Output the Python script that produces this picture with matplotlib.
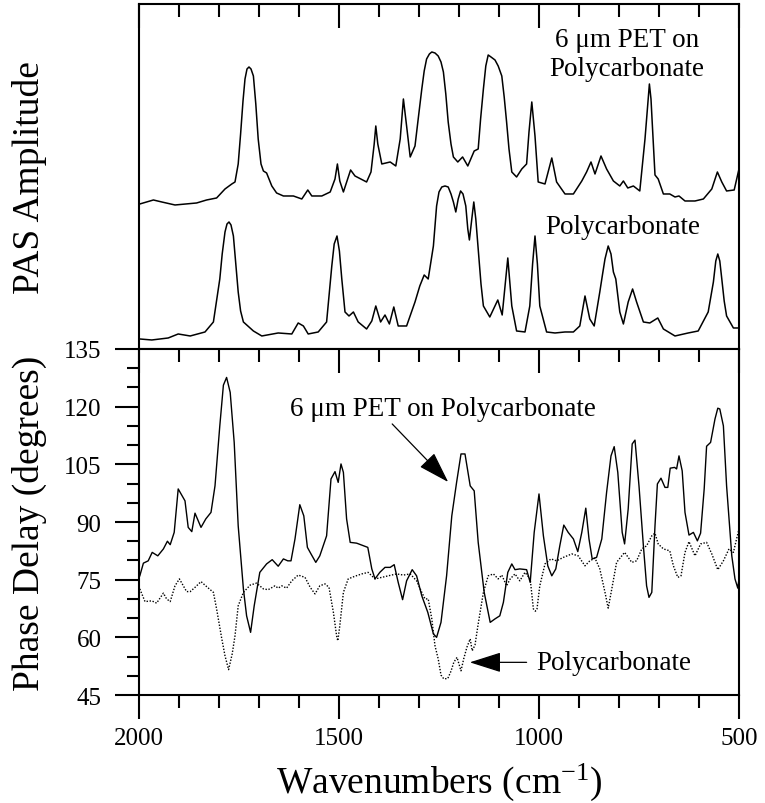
import numpy as np
import matplotlib
matplotlib.use("Agg")
import matplotlib.pyplot as plt
from matplotlib.ticker import MultipleLocator

plt.rcParams['font.family'] = ['Liberation Serif', 'DejaVu Serif']
plt.rcParams['mathtext.fontset'] = 'custom'
plt.rcParams['mathtext.rm'] = 'Liberation Serif'
plt.rcParams['mathtext.default'] = 'regular'

# --- PAS amplitude spectra (arbitrary units) ---
pet_amp_wn = [1998, 1964, 1943, 1910, 1856, 1831, 1806, 1785, 1768, 1760, 1752, 1746, 1740,
              1735, 1730, 1725, 1720, 1714, 1708, 1702, 1695, 1689, 1681, 1668, 1656, 1639,
              1614, 1593, 1578, 1568, 1543, 1522, 1510, 1504, 1498, 1489, 1471, 1460, 1431,
              1420, 1412, 1408, 1403, 1393, 1372, 1358, 1347, 1339, 1331, 1322, 1310, 1302,
              1293, 1287, 1281, 1274, 1268, 1260, 1252, 1245, 1239, 1233, 1227, 1220, 1214,
              1203, 1191, 1178, 1162, 1152, 1146, 1139, 1133, 1127, 1120, 1110, 1102, 1093,
              1087, 1081, 1075, 1068, 1056, 1043, 1031, 1025, 1018, 1010, 1002, 985, 968,
              956, 935, 914, 893, 881, 870, 860, 845, 831, 814, 798, 789, 778, 764, 748,
              735, 728, 724, 720, 717, 710, 702, 689, 673, 660, 650, 635, 610, 589, 568,
              554, 543, 531, 512, 500]
pet_amp = [145, 149, 147, 144, 146, 149, 151, 160, 165, 167, 185, 215, 248,
           270, 280, 282, 280, 273, 245, 210, 185, 178, 176, 163, 156, 153,
           153, 150, 159, 153, 153, 157, 170, 185, 168, 157, 179, 173, 167,
           177, 205, 223, 205, 185, 187, 183, 210, 250, 223, 192, 203, 230,
           260, 278, 290, 295, 297, 296, 293, 287, 277, 255, 227, 205, 192,
           187, 192, 183, 198, 200, 230, 260, 283, 294, 292, 289, 283, 273,
           252, 227, 200, 177, 172, 180, 185, 217, 247, 213, 167, 165, 191,
           167, 155, 155, 168, 177, 187, 175, 193, 180, 168, 163, 168, 161, 163, 158,
           210, 245, 265, 250, 227, 174, 170, 155, 155, 152, 153, 148, 148, 150, 160,
           177, 167, 158, 159, 180]

pc_amp_wn = [1998, 1968, 1927, 1902, 1872, 1835, 1814, 1798, 1792, 1785, 1780, 1775, 1770,
             1764, 1758, 1752, 1746, 1739, 1714, 1693, 1652, 1618, 1602, 1589, 1577, 1552,
             1531, 1518, 1512, 1505, 1499, 1493, 1485, 1475, 1464, 1452, 1431, 1418, 1408,
             1396, 1385, 1374, 1363, 1352, 1331, 1310, 1298, 1287, 1277, 1264, 1256, 1250,
             1243, 1235, 1227, 1220, 1214, 1208, 1202, 1196, 1190, 1183, 1178, 1174, 1168,
             1163, 1158, 1152, 1145, 1139, 1123, 1103, 1092, 1078, 1068, 1056, 1035, 1023,
             1016, 1010, 1004, 998, 981, 960, 935, 914, 898, 885, 873, 862, 848, 841, 835,
             827, 820, 814, 808, 798, 789, 777, 766, 756, 739, 723, 703, 689, 660, 627, 602,
             577, 564, 558, 553, 548, 543, 537, 531, 514, 500]
pc_amp = [10, 9, 11, 15, 13, 17, 27, 70, 95, 117, 125, 127, 124,
          113, 85, 57, 38, 27, 18, 13, 16, 15, 26, 23, 15, 17,
          27, 83, 105, 113, 98, 70, 37, 33, 37, 27, 20, 28, 43,
          27, 34, 25, 42, 23, 23, 47, 63, 74, 70, 103, 143, 157,
          162, 163, 162, 155, 147, 137, 150, 158, 155, 143, 120, 109, 130,
          147, 130, 100, 65, 43, 32, 49, 34, 91, 43, 18, 17, 43,
          85, 113, 85, 43, 17, 16, 17, 17, 23, 53, 30, 23, 57, 75, 90,
          103, 95, 77, 70, 37, 25, 47, 60, 47, 27, 26, 31, 20, 13, 16, 18,
          37, 67, 88, 95, 88, 70, 48, 33, 21, 21]

# --- phase delay spectra (degrees) ---
pet_ph_wn = [1998, 1989, 1977, 1967, 1953, 1939, 1929, 1922, 1912, 1902, 1885, 1877, 1868,
             1860, 1845, 1833, 1820, 1810, 1798, 1789, 1781, 1772, 1762, 1752, 1739, 1731,
             1721, 1712, 1698, 1681, 1667, 1652, 1639, 1628, 1620, 1610, 1598, 1588, 1579,
             1570, 1558, 1548, 1531, 1520, 1510, 1502, 1495, 1489, 1481, 1472, 1456, 1428,
             1418, 1410, 1398, 1385, 1372, 1362, 1352, 1341, 1331, 1317, 1306, 1293, 1278,
             1264, 1256, 1245, 1231, 1218, 1206, 1195, 1185, 1172, 1162, 1152, 1137, 1122,
             1110, 1098, 1089, 1078, 1068, 1060, 1048, 1031, 1022, 1012, 1000, 989, 978,
             968, 958, 948, 938, 927, 914, 903, 893, 883, 875, 867, 856, 843, 831, 820,
             812, 803, 792, 786, 777, 767, 760, 750, 739, 731, 725, 718, 710, 704, 695,
             685, 678, 672, 661, 656, 650, 642, 635, 625, 614, 604, 596, 587, 581, 571,
             560, 553, 548, 539, 531, 518, 510, 503, 500]
pet_ph = [76.0, 79.3, 79.9, 82.1, 81.2, 83.0, 85.0, 84.1, 87.3, 98.6, 95.5, 88.6, 87.5,
          92.3, 88.6, 90.8, 92.5, 99.4, 115.0, 125.6, 127.6, 123.7, 110.7, 89.0, 72.6, 65.6,
          61.3, 68.2, 76.9, 79.1, 80.2, 78.5, 80.4, 79.9, 79.9, 85.6, 94.5, 91.6, 83.4,
          81.7, 79.5, 81.2, 86.4, 101.2, 103.1, 100.3, 105.1, 102.9, 90.8, 84.7, 84.5, 83.4,
          77.8, 75.2, 76.9, 78.2, 78.2, 78.9, 74.3, 69.8, 74.7, 77.6, 76.0, 70.8, 66.5,
          60.9, 60.0, 63.9, 76.0, 91.6, 100.3, 107.7, 107.7, 99.4, 98.1, 84.7, 71.7, 63.9,
          64.8, 65.6, 69.1, 76.9, 79.1, 77.6, 77.8, 77.6, 74.3, 87.3, 97.3, 86.4, 78.6,
          76.0, 77.8, 83.8, 89.2, 87.3, 85.6, 82.3, 87.3, 93.6, 85.6, 80.4, 80.8, 85.6, 97.7, 107.2,
          109.6, 102.9, 87.3, 84.3, 93.4, 110.3, 111.3, 99.4, 83.8, 73.4, 70.4, 71.7, 89.0, 99.9, 101.4,
          99.0, 99.0, 104.0, 104.2, 103.8, 107.2, 103.3, 92.5, 86.6, 87.3, 85.1, 87.1, 98.6, 109.7, 110.7,
          116.8, 119.6, 119.4, 115.0, 99.4, 81.2, 75.2, 72.8, 75.2]

pc_ph_wn = [1998, 1985, 1968, 1956, 1939, 1931, 1922, 1910, 1899, 1881, 1872, 1860, 1845,
            1831, 1814, 1806, 1793, 1785, 1776, 1767, 1760, 1752, 1739, 1722, 1706, 1689,
            1677, 1660, 1652, 1643, 1631, 1618, 1602, 1585, 1572, 1560, 1548, 1535, 1525,
            1514, 1506, 1503, 1498, 1489, 1477, 1460, 1443, 1427, 1410, 1393, 1377, 1356,
            1339, 1322, 1306, 1293, 1285, 1277, 1268, 1260, 1252, 1245, 1238, 1228, 1220,
            1213, 1205, 1195, 1188, 1180, 1172, 1167, 1160, 1152, 1139, 1127, 1114, 1102,
            1093, 1081, 1072, 1060, 1048, 1035, 1022, 1014, 1009, 1005, 998, 985, 970,
            956, 939, 918, 902, 885, 873, 860, 848, 835, 827, 818, 806, 786, 768, 756,
            743, 731, 718, 710, 702, 689, 673, 664, 653, 645, 635, 625, 610, 596, 581,
            568, 553, 539, 525, 514, 500]
pc_ph = [72.6, 69.3, 69.5, 68.9, 71.5, 70.0, 69.3, 73.4, 75.2, 71.9, 71.9, 73.0, 74.5,
         73.2, 71.7, 67.4, 59.6, 55.2, 51.6, 55.7, 60.4, 68.2, 71.7, 73.6, 74.1, 72.6,
         72.4, 73.4, 72.8, 73.4, 72.8, 74.7, 76.2, 75.6, 73.0, 71.3, 73.4, 73.9, 73.0,
         66.5, 60.4, 59.1, 63.0, 71.7, 75.2, 75.9, 76.5, 76.9, 75.2, 75.6, 76.0, 76.5,
         76.2, 76.5, 74.7, 71.7, 70.0, 70.0, 64.8, 57.8, 54.4, 50.2, 49.2, 49.3, 51.2,
         53.5, 54.8, 51.3, 54.5, 57.5, 59.6, 56.5, 58.0, 63.5, 71.7, 76.0, 76.5, 75.2,
         76.2, 73.4, 75.2, 76.5, 74.7, 76.9, 75.2, 67.4, 66.8, 67.4, 73.4, 79.1, 80.4,
         79.9, 80.8, 81.7, 81.2, 78.6, 79.9, 80.6, 77.8, 71.7, 67.6, 72.6, 79.5, 82.1, 79.5, 79.9,
         83.0, 83.8, 86.4, 87.1, 84.3, 83.0, 82.5, 78.6, 75.6, 76.0, 82.1, 84.9, 81.2, 84.3, 84.7,
         81.7, 77.6, 79.9, 83.0, 82.1, 88.2]

fig = plt.figure(figsize=(7.65, 8.04), dpi=100)
ax1 = fig.add_axes([0.1817, 0.5647, 0.7843, 0.4291])
ax2 = fig.add_axes([0.1817, 0.1343, 0.7843, 0.4304])

for ax in (ax1, ax2):
    for s in ax.spines.values():
        s.set_linewidth(1.5)
    ax.set_xlim(2000, 500)

# top panel: amplitude
ax1.plot(pet_amp_wn, pet_amp, color='black', lw=1.1)
ax1.plot(pc_amp_wn, pc_amp, color='black', lw=1.1)
ax1.set_ylim(0, 345)
ax1.xaxis.set_major_locator(MultipleLocator(500))
ax1.xaxis.set_minor_locator(MultipleLocator(100))
ax1.tick_params(axis='x', which='both', bottom=False, top=True, direction='in',
                labelbottom=False, width=1.5)
ax1.tick_params(axis='x', which='major', length=17)
ax1.tick_params(axis='x', which='minor', length=9)
ax1.tick_params(axis='y', which='both', left=False, labelleft=False)
ax1.set_ylabel('PAS Amplitude', fontsize=27)
ax1.yaxis.set_label_coords(-0.153, 0.5)
ax1.text(780, 295, '6 \u03bcm PET on\nPolycarbonate', fontsize=19.5, ha='center',
         va='center', linespacing=1.25)
ax1.text(790, 122, 'Polycarbonate', fontsize=19.5, ha='center', va='center')

# bottom panel: phase delay
ax2.plot(pet_ph_wn, pet_ph, color='black', lw=1.0)
ax2.plot(pc_ph_wn, pc_ph, color='black', lw=1.0, linestyle=(0, (1, 1.2)))
ax2.set_ylim(45, 135)
ax2.yaxis.set_major_locator(MultipleLocator(15))
ax2.yaxis.set_minor_locator(MultipleLocator(5))
ax2.xaxis.set_major_locator(MultipleLocator(500))
ax2.xaxis.set_minor_locator(MultipleLocator(100))
ax2.xaxis.set_major_formatter(plt.FuncFormatter(lambda v, p: '%d' % v))
ax2.tick_params(axis='both', which='both', direction='out', width=1.5, labelsize=18)
ax2.tick_params(axis='both', which='major', length=17, pad=10)
ax2.tick_params(axis='both', which='minor', length=9)
ax2.tick_params(axis='x', which='major', pad=6)
top = ax2.secondary_xaxis('top')
top.xaxis.set_major_locator(MultipleLocator(500))
top.xaxis.set_minor_locator(MultipleLocator(100))
top.tick_params(axis='x', which='both', direction='in', labeltop=False, width=1.5)
top.tick_params(axis='x', which='major', length=17)
top.tick_params(axis='x', which='minor', length=9)
top.spines['top'].set_visible(False)

ax2.set_ylabel('Phase Delay (degrees)', fontsize=27)
ax2.yaxis.set_label_coords(-0.153, 0.5)
ax2.set_xlabel('Wavenumbers (cm$^{-1}$)', fontsize=27)
ax2.xaxis.set_label_coords(0.5, -0.19)

ax2.text(1240, 119.4, '6 \u03bcm PET on Polycarbonate', fontsize=19.5, ha='center', va='center')
ax2.annotate('', xy=(1227, 100.4), xytext=(1367, 115.5),
             arrowprops=dict(arrowstyle='-|>,head_length=1.1,head_width=0.35',
                             mutation_scale=18, lw=0.9, color='black',
                             shrinkA=0, shrinkB=0))
ax2.text(1008, 53.5, 'Polycarbonate', fontsize=19.5, ha='left', va='center')
ax2.annotate('', xy=(1173, 53.5), xytext=(1031, 53.5),
             arrowprops=dict(arrowstyle='-|>,head_length=1.1,head_width=0.35',
                             mutation_scale=18, lw=0.9, color='black',
                             shrinkA=0, shrinkB=0))

fig.savefig('out.png', dpi=100)
